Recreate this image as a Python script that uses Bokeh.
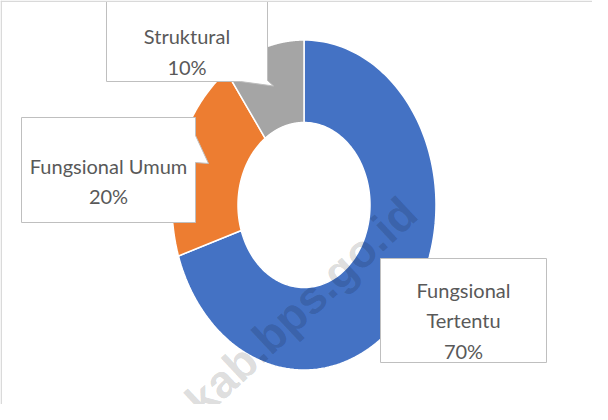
import numpy as np
from bokeh.plotting import figure
from bokeh.models import Range1d, Span
from bokeh.core.properties import value
from bokeh.embed import file_html
from bokeh.resources import INLINE

# ---- data ----
categories = ["Fungsional Tertentu", "Fungsional Umum", "Struktural"]
shares = [70, 20, 10]
colors = ["#4472C4", "#ED7D31", "#A5A5A5"]
name_lines = [["Fungsional", "Tertentu"], ["Fungsional Umum"], ["Struktural"]]
watermark = "kab.bps.go.id"

# ---- layout (page pixel coordinates) ----
W, H = 592, 404
cx, cy, rx, ry, hole = 311.5, 212.5, 132.0, 165.0, 0.5
boxes = [
    [(388, 266), (554, 266), (554, 370), (388, 370)],
    [(29, 125), (203, 125), (203, 143), (216, 171), (203, 170), (203, 230), (29, 230)],
    [(114, 9), (275, 9), (275, 88), (281, 93.5), (248, 89), (114, 89)],
]
box_text_x = [471, 116, 194.5]
box_baselines = [[297, 327.5, 358], [173, 203], [43, 74]]

p = figure(width=W, height=H, x_range=Range1d(8, 8 + W), y_range=Range1d(8 + H, 8),
           output_backend="svg", toolbar_location=None, min_border=0,
           x_axis_location=None, y_axis_location=None)
p.grid.visible = False
p.outline_line_color = None
p.background_fill_color = "white"
p.border_fill_color = "white"

# donut slices, clockwise from 12 o'clock
frac = np.cumsum([0] + shares) / float(sum(shares))
for i, cat in enumerate(categories):
    t = np.linspace(frac[i], frac[i + 1], 150)
    th = np.pi / 2 - 2 * np.pi * t
    xo = cx + rx * np.cos(th)
    yo = cy - ry * np.sin(th)
    xi = cx + hole * rx * np.cos(th)
    yi = cy - hole * ry * np.sin(th)
    p.patch(np.r_[xo, xi[::-1]], np.r_[yo, yi[::-1]], fill_color=colors[i],
            line_color="white", line_width=1.5)

# watermark
p.text(x=[417], y=[213], text=[watermark], angle=0.75,
       text_font=value("Liberation Sans"), text_font_style="bold",
       text_font_size="46px", text_color="black", text_alpha=0.15,
       text_align="right", text_baseline="alphabetic")

# label boxes
for i, cat in enumerate(categories):
    bx = [pt[0] for pt in boxes[i]]
    by = [pt[1] for pt in boxes[i]]
    p.patch(bx, by, fill_color="white", line_color="#BFBFBF", line_width=1)
    lines = name_lines[i] + ["%d%%" % shares[i]]
    p.text(x=[box_text_x[i]] * len(lines), y=box_baselines[i], text=lines,
           text_font=value("Lato"), text_font_size="20px",
           text_color="#595959", text_align="center", text_baseline="alphabetic")

# chart border (top / left)
p.add_layout(Span(location=8.7, dimension="width", line_color="#D9D9D9", line_width=1.5))
p.add_layout(Span(location=8.7, dimension="height", line_color="#D9D9D9", line_width=1.5))

open("out.html", "w").write(file_html(p, INLINE))
